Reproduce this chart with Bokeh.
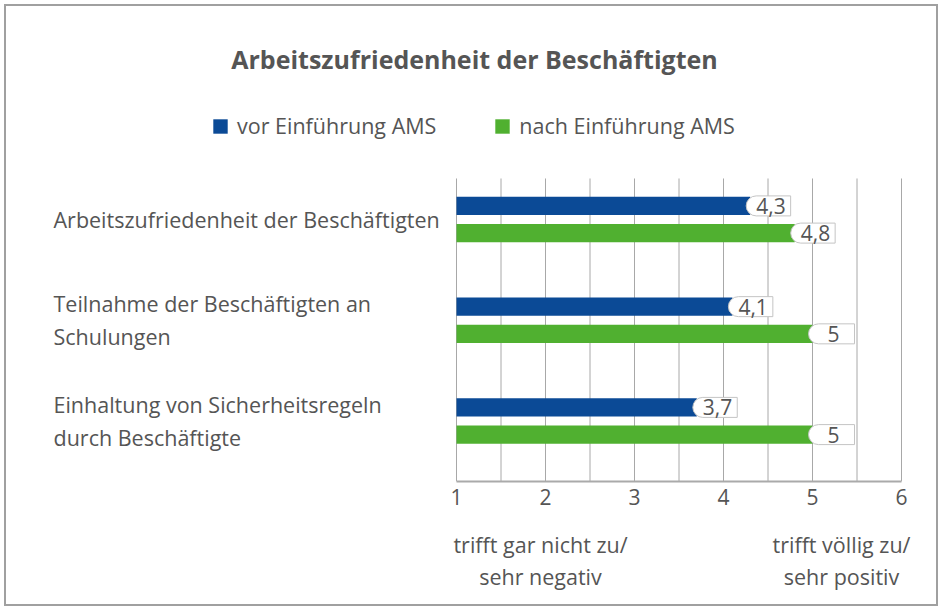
from bokeh.plotting import figure
from bokeh.models import Range1d, FixedTicker, Label, Legend, LegendItem, ColumnDataSource, LinearAxis
from bokeh.core.properties import value
from bokeh.embed import file_html
from bokeh.resources import INLINE

title = "Arbeitszufriedenheit der Beschäftigten"
categories = [
    "Arbeitszufriedenheit der Beschäftigten",
    "Teilnahme der Beschäftigten an\nSchulungen",
    "Einhaltung von Sicherheitsregeln\ndurch Beschäftigte",
]
series_names = ["vor Einführung AMS", "nach Einführung AMS"]
vor = [4.3, 4.1, 3.7]
nach = [4.8, 5.0, 5.0]
x_ticks = [1, 2, 3, 4, 5, 6]
grid_ticks = [1, 1.5, 2, 2.5, 3, 3.5, 4, 4.5, 5, 5.5, 6]
scale_low = "trifft gar nicht zu/\nsehr negativ"
scale_high = "trifft völlig zu/\nsehr positiv"

FONT = "Open Sans"
TXT = "#555555"
BLUE = "#0b4a96"
GREEN = "#50b030"
FS = "21.5px"

def fmt(v):
    return str(int(v)) if float(v).is_integer() else f"{v:.1f}".replace(".", ",")

pos = list(range(len(categories)))

# layout: canvas 934 wide, frame spans full width; scale 1..6 -> canvas px 450..895
W, H = 934, 602
PX = 5 / 445
Y_BOT = 2.6005      # axis line level
Y_TOP_GRID = -0.407  # top of grid lines
FRAME_H = 475

p = figure(width=W, height=H, output_backend="svg", toolbar_location=None,
           x_range=Range1d(1 - 450 * PX, 6 + (W - 895) * PX),
           y_range=Range1d(Y_BOT, Y_BOT - FRAME_H / 100.75),
           x_axis_location="below", y_axis_location=None,
           min_border_left=0, min_border_right=0, min_border_top=0, min_border_bottom=H - FRAME_H)
p.styles = {"margin-left": "4px", "margin-top": "4px", "border": "2px solid #a0a0a0"}
p.outline_line_color = None
p.grid.visible = False

ax = p.xaxis[0]
ax.ticker = FixedTicker(ticks=x_ticks)
ax.bounds = (1, 6)
ax.axis_line_color = "#aaaaaa"
ax.axis_line_width = 2
ax.major_tick_out = 0
ax.major_tick_in = 0
ax.minor_tick_out = 0
ax.minor_tick_in = 0
ax.major_label_text_font = FONT
ax.major_label_text_font_size = "21px"
ax.major_label_text_color = TXT
ax.major_label_standoff = 7

anchor_pos = [1 + 84 * PX, 1 + 385 * PX]
ax2 = LinearAxis(ticker=FixedTicker(ticks=anchor_pos),
                 major_label_overrides={anchor_pos[0]: scale_low, anchor_pos[1]: scale_high},
                 axis_line_color=None, major_tick_out=0, major_tick_in=0, minor_tick_out=0, minor_tick_in=0,
                 major_label_text_font=FONT, major_label_text_font_size=FS,
                 major_label_text_color=TXT, major_label_standoff=22,
                 major_label_text_line_height=1.12)
p.add_layout(ax2, "below")

# grid lines
p.segment(x0=grid_ticks, x1=grid_ticks, y0=[Y_TOP_GRID] * len(grid_ticks), y1=[Y_BOT] * len(grid_ticks),
          line_color="#a8a8a8", line_width=1)

off = 0.135
src_v = ColumnDataSource(dict(y=[c - off for c in pos], right=vor))
src_n = ColumnDataSource(dict(y=[c + off for c in pos], right=nach))
rv = p.hbar(y="y", left=1, right="right", height=0.18, source=src_v, fill_color=BLUE, line_color=None)
rn = p.hbar(y="y", left=1, right="right", height=0.18, source=src_n, fill_color=GREEN, line_color=None)

# value labels
vals = vor + nach
ys = [c - off for c in pos] + [c + off for c in pos]
labs = [fmt(v) for v in vals]
dec = [i for i, l in enumerate(labs) if "," in l]
integ = [i for i, l in enumerate(labs) if "," not in l]
for idx, pad in ((dec, dict(left=10, right=5, top=2, bottom=2)), (integ, dict(left=19, right=15, top=2, bottom=2))):
    if not idx:
        continue
    s = ColumnDataSource(dict(x=[vals[i] for i in idx], y=[ys[i] for i in idx], t=[labs[i] for i in idx]))
    p.text(x="x", y="y", text="t", source=s, x_offset=-4, text_align="left", text_baseline="middle",
           text_font=value(FONT), text_font_size="21px", text_color=TXT,
           background_fill_color="white", border_line_color="#c4c4c4", border_line_width=1,
           padding=pad, border_radius=dict(top_left=11, top_right=0, bottom_right=0, bottom_left=11))

# category labels
for c, name in zip(pos, categories):
    p.add_layout(Label(x=47, x_units="screen", y=c, y_units="data", text=name,
                       text_align="left", text_baseline="middle", text_font=FONT,
                       text_font_size=FS, text_color=TXT, text_line_height=1.15))

# title
p.add_layout(Label(x=468, y=FRAME_H - 52, x_units="screen", y_units="screen", text=title,
                   text_align="center", text_baseline="middle", text_font=FONT,
                   text_font_size="25px", text_font_style="bold", text_color=TXT))

legend = Legend(items=[LegendItem(label=series_names[0], renderers=[rv]),
                       LegendItem(label=series_names[1], renderers=[rn])],
                orientation="horizontal", location=(205, FRAME_H - 134), padding=0, margin=0,
                border_line_color=None, background_fill_alpha=0,
                glyph_width=18, glyph_height=18, label_standoff=8, spacing=57,
                label_text_font=FONT, label_text_font_size=FS, label_text_color=TXT)
p.add_layout(legend)

open("out.html", "w").write(file_html(p, INLINE))
